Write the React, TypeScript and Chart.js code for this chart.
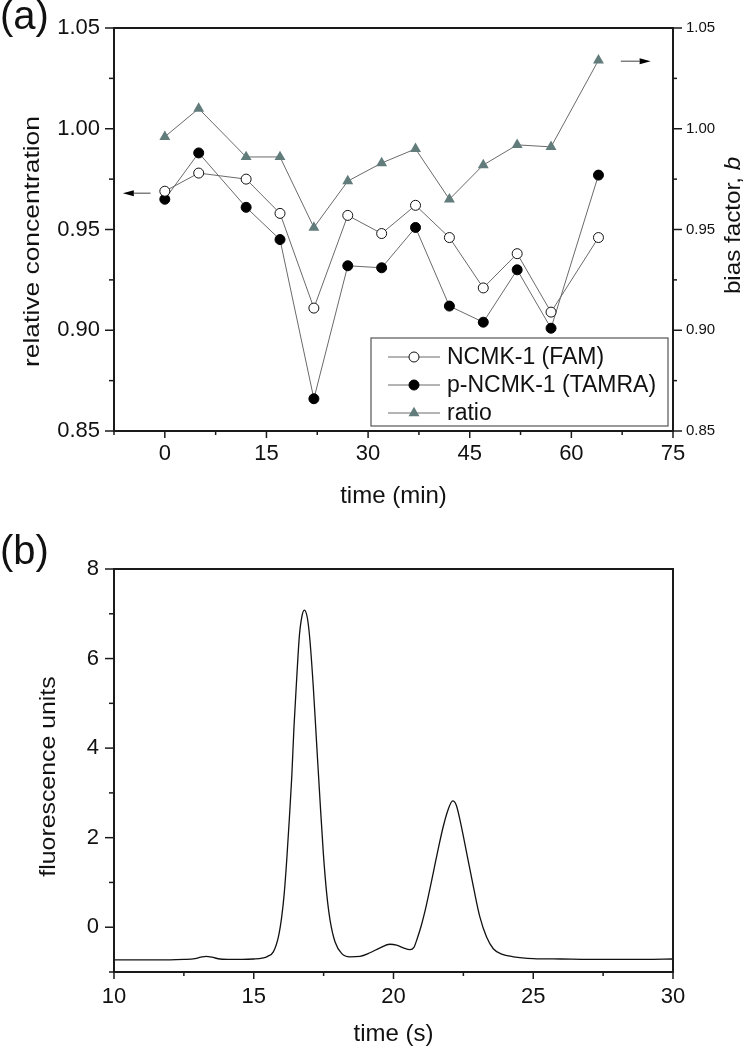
import React, { useEffect, useRef } from 'react';
import { Chart, registerables } from 'chart.js';

Chart.register(...registerables);

const FONT = "'Liberation Sans', Arial, Helvetica, sans-serif";
const INK = '#111';

// ---------- Panel (a) data ----------
const TIME_MIN = [0, 5, 12, 17, 22, 27, 32, 37, 42, 47, 52, 57, 64];
const FAM = [0.969, 0.978, 0.975, 0.958, 0.911, 0.957, 0.948, 0.962, 0.946, 0.921, 0.938, 0.909, 0.946];
const TAMRA = [0.965, 0.988, 0.961, 0.945, 0.866, 0.932, 0.931, 0.951, 0.912, 0.904, 0.930, 0.901, 0.977];
const RATIO = [0.996, 1.010, 0.986, 0.986, 0.951, 0.974, 0.983, 0.990, 0.965, 0.982, 0.992, 0.991, 1.034];
const SERIES_LABELS = ['NCMK-1 (FAM)', 'p-NCMK-1 (TAMRA)', 'ratio'];
const A_X_TICKS = [0, 15, 30, 45, 60, 75];
const A_X_MINOR = [-7.5, 7.5, 22.5, 37.5, 52.5, 67.5];
const A_Y_TICKS = [0.85, 0.9, 0.95, 1.0, 1.05];
const A_Y_MINOR = [0.875, 0.925, 0.975, 1.025];

// ---------- Panel (b) data ----------
const TIME_S = [
  10, 10.5, 11, 11.5, 12, 12.5, 12.9, 13.1, 13.3, 13.5, 13.8, 14.2, 14.6, 15.0, 15.3, 15.5, 15.7,
  15.88, 16.0, 16.09, 16.18, 16.27, 16.36, 16.44, 16.54, 16.63, 16.72, 16.81, 16.92, 17.01, 17.13,
  17.25, 17.37, 17.49, 17.61, 17.73, 17.91, 18.15, 18.44, 18.8, 19.16, 19.52, 19.87, 20.11, 20.35,
  20.59, 20.73, 20.85, 21.0, 21.15, 21.3, 21.45, 21.6, 21.78, 21.95, 22.12, 22.25, 22.38, 22.62, 22.86,
  23.09, 23.33, 23.57, 23.87, 24.29, 25.0, 26, 27, 28, 29, 30,
];
const FLUOR = [
  -0.73, -0.73, -0.73, -0.73, -0.73, -0.72, -0.7, -0.67, -0.65, -0.67, -0.71, -0.72, -0.72, -0.71, -0.69, -0.65, -0.55,
  -0.22, 0.23, 0.75, 1.5, 2.39, 3.36, 4.48, 5.59, 6.49, 6.93, 7.08, 6.9, 6.41, 5.37,
  4.1, 2.84, 1.65, 0.75, 0.16, -0.33, -0.59, -0.66, -0.65, -0.57, -0.46, -0.38, -0.4, -0.46,
  -0.5, -0.45, -0.25, 0.05, 0.42, 0.85, 1.3, 1.75, 2.25, 2.62, 2.82, 2.72, 2.39, 1.65, 0.9,
  0.23, -0.22, -0.48, -0.6, -0.66, -0.7, -0.71, -0.72, -0.72, -0.72, -0.71,
];
const B_X_TICKS = [10, 15, 20, 25, 30];
const B_X_MINOR = [12.5, 17.5, 22.5, 27.5];
const B_Y_TICKS = [0, 2, 4, 6, 8];
const B_Y_MINOR = [-1, 1, 3, 5, 7];

type Part = { text: string; italic?: boolean };

function drawText(
  ctx: CanvasRenderingContext2D,
  parts: Part[],
  x: number,
  y: number,
  size: number,
  opts: { rotate?: boolean; stretch?: number; align?: 'center' | 'left' } = {}
) {
  const stretch = opts.stretch ?? 1;
  ctx.save();
  ctx.translate(x, y);
  if (opts.rotate) ctx.rotate(-Math.PI / 2);
  ctx.scale(stretch, 1);
  ctx.textBaseline = 'alphabetic';
  ctx.textAlign = 'left';
  const widths = parts.map((p) => {
    ctx.font = `${p.italic ? 'italic ' : ''}${size}px ${FONT}`;
    return ctx.measureText(p.text).width;
  });
  const total = widths.reduce((a, b) => a + b, 0);
  let cx = opts.align === 'left' ? 0 : -total / 2;
  parts.forEach((p, i) => {
    ctx.font = `${p.italic ? 'italic ' : ''}${size}px ${FONT}`;
    ctx.fillText(p.text, cx, 0);
    cx += widths[i];
  });
  ctx.restore();
}

type TickSpec = { id: string; side: 'left' | 'right' | 'bottom'; major: number[]; minor: number[]; majLen: number; minLen: number };

function makeDecor(name: string, ticks: TickSpec[], extra: (chart: any, ctx: CanvasRenderingContext2D) => void) {
  return {
    id: 'decor_' + name,
    afterDraw(chart: any) {
      const ctx: CanvasRenderingContext2D = chart.ctx;
      const ca = chart.chartArea;
      ctx.save();
      ctx.strokeStyle = '#1a1a1a';
      ctx.lineWidth = 1.5;
      for (const t of ticks) {
        const sc = chart.scales[t.id];
        const draw = (v: number, len: number) => {
          const p = sc.getPixelForValue(v);
          ctx.beginPath();
          if (t.side === 'bottom') {
            ctx.moveTo(p, ca.bottom);
            ctx.lineTo(p, ca.bottom + len);
          } else if (t.side === 'left') {
            ctx.moveTo(ca.left, p);
            ctx.lineTo(ca.left - len, p);
          } else {
            ctx.moveTo(ca.right, p);
            ctx.lineTo(ca.right + len, p);
          }
          ctx.stroke();
        };
        t.major.forEach((v) => draw(v, t.majLen));
        t.minor.forEach((v) => draw(v, t.minLen));
      }
      ctx.lineWidth = 2;
      ctx.strokeRect(ca.left, ca.top, ca.right - ca.left, ca.bottom - ca.top);
      ctx.fillStyle = INK;
      extra(chart, ctx);
      ctx.restore();
    },
  };
}

function arrow(ctx: CanvasRenderingContext2D, x1: number, x2: number, y: number) {
  const dir = Math.sign(x2 - x1);
  const headLen = 11;
  const half = 3;
  ctx.save();
  ctx.strokeStyle = '#777';
  ctx.lineWidth = 1.4;
  ctx.beginPath();
  ctx.moveTo(x1, y);
  ctx.lineTo(x2 - dir * headLen, y);
  ctx.stroke();
  ctx.fillStyle = '#000';
  ctx.beginPath();
  ctx.moveTo(x2, y);
  ctx.lineTo(x2 - dir * headLen, y - half);
  ctx.lineTo(x2 - dir * headLen, y + half);
  ctx.closePath();
  ctx.fill();
  ctx.restore();
}

function drawMarker(ctx: CanvasRenderingContext2D, ds: any, x: number, y: number) {
  const r = ds.pointRadius;
  ctx.save();
  ctx.fillStyle = ds.pointBackgroundColor;
  ctx.strokeStyle = ds.pointBorderColor;
  ctx.lineWidth = ds.pointBorderWidth;
  ctx.beginPath();
  if (ds.pointStyle === 'triangle') {
    let rad = 0;
    ctx.moveTo(x + Math.sin(rad) * r, y - Math.cos(rad) * r);
    rad += (2 * Math.PI) / 3;
    ctx.lineTo(x + Math.sin(rad) * r, y - Math.cos(rad) * r);
    rad += (2 * Math.PI) / 3;
    ctx.lineTo(x + Math.sin(rad) * r, y - Math.cos(rad) * r);
    ctx.closePath();
  } else {
    ctx.arc(x, y, r, 0, Math.PI * 2);
  }
  ctx.fill();
  if (ds.pointBorderWidth > 0) ctx.stroke();
  ctx.restore();
}

function tickLabelFont(size: number) {
  return { family: FONT, size };
}

function configA(): any {
  const line = (vals: number[]) => TIME_MIN.map((t, i) => ({ x: t, y: vals[i] }));
  const common = { borderColor: '#6a6a6a', borderWidth: 1, tension: 0, fill: false };
  return {
    type: 'line',
    data: {
      datasets: [
        {
          ...common,
          label: SERIES_LABELS[0],
          data: line(FAM),
          pointStyle: 'circle',
          pointRadius: 5,
          pointBackgroundColor: '#ffffff',
          pointBorderColor: '#111111',
          pointBorderWidth: 1,
          yAxisID: 'y',
        },
        {
          ...common,
          label: SERIES_LABELS[1],
          data: line(TAMRA),
          pointStyle: 'circle',
          pointRadius: 5,
          pointBackgroundColor: '#000000',
          pointBorderColor: '#000000',
          pointBorderWidth: 1,
          yAxisID: 'y',
        },
        {
          ...common,
          label: SERIES_LABELS[2],
          data: line(RATIO),
          pointStyle: 'triangle',
          pointRadius: 6.3,
          pointBackgroundColor: '#627c7c',
          pointBorderColor: '#627c7c',
          pointBorderWidth: 0,
          yAxisID: 'y1',
        },
      ],
    },
    options: {
      animation: false,
      responsive: false,
      devicePixelRatio: 1,
      layout: { padding: { top: 28, left: 0, right: 0, bottom: 0 } },
      plugins: { legend: { display: false }, tooltip: { enabled: false } },
      scales: {
        x: {
          type: 'linear',
          min: -7.5,
          max: 75,
          afterBuildTicks: (s: any) => {
            s.ticks = A_X_TICKS.map((v) => ({ value: v }));
          },
          afterFit: (s: any) => {
            s.height = 89;
          },
          grid: { display: false, drawTicks: false },
          border: { display: false },
          ticks: { color: INK, font: tickLabelFont(22), padding: 10, maxRotation: 0, autoSkip: false, callback: (v: any) => String(v) },
        },
        y: {
          type: 'linear',
          position: 'left',
          min: 0.85,
          max: 1.05,
          afterBuildTicks: (s: any) => {
            s.ticks = A_Y_TICKS.map((v) => ({ value: v }));
          },
          afterFit: (s: any) => {
            s.width = 114;
          },
          grid: { display: false, drawTicks: false },
          border: { display: false },
          ticks: { color: INK, font: tickLabelFont(22), padding: 14, autoSkip: false, callback: (v: any) => Number(v).toFixed(2) },
        },
        y1: {
          type: 'linear',
          position: 'right',
          min: 0.85,
          max: 1.05,
          afterBuildTicks: (s: any) => {
            s.ticks = A_Y_TICKS.map((v) => ({ value: v }));
          },
          afterFit: (s: any) => {
            s.width = 74;
          },
          grid: { display: false, drawTicks: false },
          border: { display: false },
          ticks: { color: INK, font: tickLabelFont(15), padding: 13, autoSkip: false, callback: (v: any) => Number(v).toFixed(2) },
        },
      },
    },
    plugins: [
      makeDecor(
        'a',
        [
          { id: 'x', side: 'bottom', major: A_X_TICKS, minor: A_X_MINOR, majLen: 7, minLen: 4 },
          { id: 'y', side: 'left', major: A_Y_TICKS, minor: A_Y_MINOR, majLen: 9, minLen: 5 },
          { id: 'y1', side: 'right', major: A_Y_TICKS, minor: A_Y_MINOR, majLen: 9, minLen: 4 },
        ],
        (chart, ctx) => {
          const ca = chart.chartArea;
          const cx = (ca.left + ca.right) / 2;
          const cy = (ca.top + ca.bottom) / 2;
          drawText(ctx, [{ text: '(a)' }], 0, 29, 40, { align: 'left' });
          drawText(ctx, [{ text: 'time (min)' }], cx, ca.bottom + 72, 24);
          drawText(ctx, [{ text: 'relative concentration' }], ca.left - 75, cy + 12, 22, { rotate: true, stretch: 1.2 });
          drawText(ctx, [{ text: 'bias factor, ' }, { text: 'b', italic: true }], ca.right + 67, cy - 4, 22, {
            rotate: true,
            stretch: 1.1,
          });

          // arrows pointing to the respective axes
          const xs = chart.scales.x;
          const ys = chart.scales.y;
          const y1 = chart.scales.y1;
          arrow(ctx, xs.getPixelForValue(-2.1), xs.getPixelForValue(-6.2), ys.getPixelForValue(0.968));
          arrow(ctx, xs.getPixelForValue(67.3), xs.getPixelForValue(71.7), y1.getPixelForValue(1.0335));

          // legend box
          const w = 297;
          const h = 88;
          const lx = ca.right - 5 - w;
          const ly = ca.bottom - 5 - h;
          ctx.save();
          ctx.fillStyle = '#ffffff';
          ctx.fillRect(lx, ly, w, h);
          ctx.strokeStyle = '#555';
          ctx.lineWidth = 1.2;
          ctx.strokeRect(lx, ly, w, h);
          chart.data.datasets.forEach((ds: any, i: number) => {
            const ry = ly + 19 + i * 28;
            ctx.strokeStyle = ds.borderColor;
            ctx.lineWidth = ds.borderWidth;
            ctx.beginPath();
            ctx.moveTo(lx + 17, ry);
            ctx.lineTo(lx + 69, ry);
            ctx.stroke();
            drawMarker(ctx, ds, lx + 43, ry);
            ctx.fillStyle = INK;
            ctx.font = `23px ${FONT}`;
            ctx.textAlign = 'left';
            ctx.textBaseline = 'middle';
            ctx.fillText(ds.label, lx + 76, ry + 1);
          });
          ctx.restore();
        }
      ),
    ],
  };
}

function configB(): any {
  return {
    type: 'line',
    data: {
      datasets: [
        {
          label: 'fluorescence',
          data: TIME_S.map((t, i) => ({ x: t, y: FLUOR[i] })),
          borderColor: '#111111',
          borderWidth: 1.3,
          pointRadius: 0,
          cubicInterpolationMode: 'monotone',
          fill: false,
        },
      ],
    },
    options: {
      animation: false,
      responsive: false,
      devicePixelRatio: 1,
      layout: { padding: { top: 49, left: 0, right: 74, bottom: 0 } },
      plugins: { legend: { display: false }, tooltip: { enabled: false } },
      scales: {
        x: {
          type: 'linear',
          min: 10,
          max: 30,
          afterBuildTicks: (s: any) => {
            s.ticks = B_X_TICKS.map((v) => ({ value: v }));
          },
          afterFit: (s: any) => {
            s.height = 78;
          },
          grid: { display: false, drawTicks: false },
          border: { display: false },
          ticks: { color: INK, font: tickLabelFont(22), padding: 12, maxRotation: 0, autoSkip: false, callback: (v: any) => String(v) },
        },
        y: {
          type: 'linear',
          position: 'left',
          min: -1,
          max: 8,
          afterBuildTicks: (s: any) => {
            s.ticks = B_Y_TICKS.map((v) => ({ value: v }));
          },
          afterFit: (s: any) => {
            s.width = 114;
          },
          grid: { display: false, drawTicks: false },
          border: { display: false },
          ticks: { color: INK, font: tickLabelFont(22), padding: 15, autoSkip: false, callback: (v: any) => String(v) },
        },
      },
    },
    plugins: [
      makeDecor(
        'b',
        [
          { id: 'x', side: 'bottom', major: B_X_TICKS, minor: B_X_MINOR, majLen: 7, minLen: 4 },
          { id: 'y', side: 'left', major: B_Y_TICKS, minor: B_Y_MINOR, majLen: 9, minLen: 5 },
        ],
        (chart, ctx) => {
          const ca = chart.chartArea;
          const cx = (ca.left + ca.right) / 2;
          const cy = (ca.top + ca.bottom) / 2;
          drawText(ctx, [{ text: '(b)' }], 0, 44, 40, { align: 'left' });
          drawText(ctx, [{ text: 'time (s)' }], cx, ca.bottom + 69, 24);
          drawText(ctx, [{ text: 'fluorescence units' }], ca.left - 59, cy + 6, 22, { rotate: true, stretch: 1.13 });
        }
      ),
    ],
  };
}

export default function App() {
  const refA = useRef<HTMLCanvasElement>(null);
  const refB = useRef<HTMLCanvasElement>(null);

  useEffect(() => {
    const a = new Chart(refA.current as HTMLCanvasElement, configA());
    const b = new Chart(refB.current as HTMLCanvasElement, configB());
    return () => {
      a.destroy();
      b.destroy();
    };
  }, []);

  return (
    <div style={{ position: 'absolute', left: 0, top: 0, width: 747, height: 1050, background: '#ffffff' }}>
      <canvas ref={refA} width={747} height={520} style={{ position: 'absolute', left: 0, top: 0 }} />
      <canvas ref={refB} width={747} height={530} style={{ position: 'absolute', left: 0, top: 520 }} />
    </div>
  );
}
